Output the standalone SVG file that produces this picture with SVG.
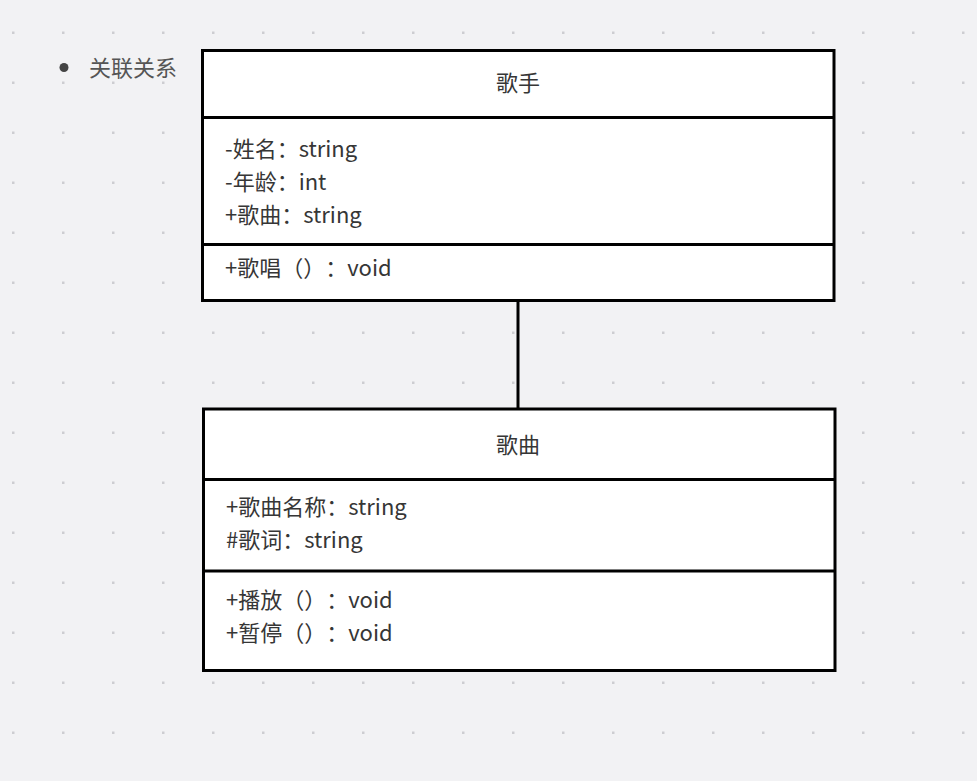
<svg xmlns="http://www.w3.org/2000/svg" width="977" height="781" viewBox="0 0 977 781">
  <style>
    .box { fill: #ffffff; stroke: #000000; stroke-width: 3; }
    .div { stroke: #000000; stroke-width: 3; }
    text { text-spacing-trim: space-all; font-feature-settings: "halt" 0, "palt" 0; }
    .t { font-family: "Noto Sans CJK SC", "Noto Sans", sans-serif; font-size: 22px; fill: #363636; }
    .title { text-anchor: middle; }
    .conn { stroke: #000000; stroke-width: 3; fill: none; }
  </style>
  <defs>
    <pattern id="grid" x="0" y="0" width="50" height="50" patternUnits="userSpaceOnUse">
      <rect x="12" y="31.5" width="2.5" height="2.5" fill="#cdcdd1"/>
    </pattern>
  </defs>
  <rect width="977" height="781" fill="#f2f2f4"/>
  <rect width="977" height="781" fill="url(#grid)"/>

  <g id="legend">
    <circle cx="64" cy="67.5" r="4.5" fill="#444444"/>
    <text x="89" y="75.5" font-family="Noto Sans CJK SC, sans-serif" font-size="22" fill="#555555">关联关系</text>
  </g>

  <g id="connectors">
    <line class="conn" x1="518" y1="300.5" x2="518" y2="409"/>
  </g>

  <g id="singer">
    <rect class="box" x="202.5" y="50.5" width="631.5" height="250"/>
    <line class="div" x1="202.5" y1="117.5" x2="834" y2="117.5"/>
    <line class="div" x1="202.5" y1="244.5" x2="834" y2="244.5"/>
    <text class="t title" x="518" y="91">歌手</text>
    <text class="t" x="225" y="157">-姓名：string</text>
    <text class="t" x="225" y="190">-年龄：int</text>
    <text class="t" x="225" y="223">+歌曲：string</text>
    <text class="t" x="225" y="276">+歌唱（）：void</text>
  </g>

  <g id="song">
    <rect class="box" x="203.5" y="409" width="631.5" height="261.5"/>
    <line class="div" x1="203.5" y1="479.5" x2="835" y2="479.5"/>
    <line class="div" x1="203.5" y1="571" x2="835" y2="571"/>
    <text class="t title" x="518" y="452.5">歌曲</text>
    <text class="t" x="226" y="515">+歌曲名称：string</text>
    <text class="t" x="226" y="548">#歌词：string</text>
    <text class="t" x="226" y="608">+播放（）：void</text>
    <text class="t" x="226" y="641">+暂停（）：void</text>
  </g>
</svg>
